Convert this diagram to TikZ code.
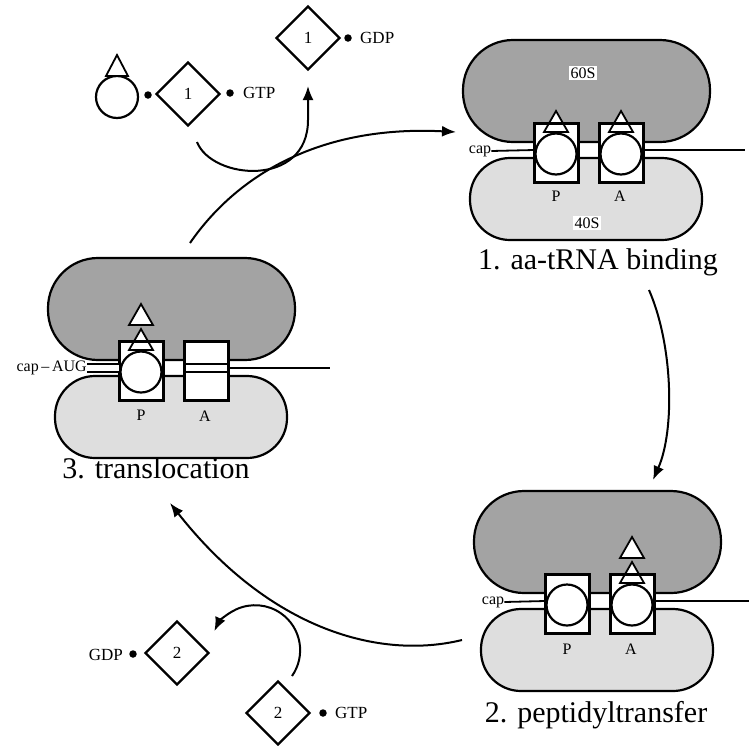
\documentclass[tikz,border=0pt]{standalone}
\usepackage{fontspec}
\setmainfont{Liberation Serif}
\usetikzlibrary{shapes.geometric,arrows.meta}
\newcommand\ribobase{%
  \draw[large60] (-93,-114) rectangle (154,-12);
  \draw[small40] (-86,4) rectangle (146,86);
  \fill[white] (-22,-31) rectangle (22,28);
  \fill[white] (43,-31) rectangle (87,28);
}
\begin{document}
\begin{tikzpicture}[x=1pt,y=-1pt,
  big/.style={font=\fontsize{30}{34}\selectfont, inner sep=0pt},
  sm/.style={font=\fontsize{17}{20}\selectfont, inner sep=0pt},
  tiny/.style={font=\fontsize{16}{18}\selectfont, inner sep=0pt},
  large60/.style={draw=black, line width=2.2pt, fill=black!36, rounded corners=50pt},
  small40/.style={draw=black, line width=2.2pt, fill=black!13, rounded corners=40pt},
  sitebox/.style={line width=3pt},
  trna/.style={draw, line width=2.2pt, fill=white},
  aa/.style={draw, line width=1.8pt, fill=white, line join=miter},
  factor/.style={diamond, draw, line width=2.4pt, minimum width=64pt, minimum height=64pt, inner sep=0pt, font=\fontsize{17}{20}\selectfont},
  gdot/.style={circle, fill=black, minimum size=7.5pt, inner sep=0pt},
  cyc/.style={line width=2pt, -{Latex[length=14pt,width=11pt]}},
  mrna/.style={line width=1.8pt},
]
\useasboundingbox (0,0) rectangle (749,745);

% ---------- Ribosome 1: aa-tRNA binding ----------
\begin{scope}[shift={(556,154)}]
  \ribobase
  \draw[aa] (0,-43) -- (12,-22) -- (-12,-22) -- cycle;
  \draw[aa] (65,-43) -- (77,-22) -- (53,-22) -- cycle;
  \draw[sitebox] (-22,-31) rectangle (22,28);
  \draw[sitebox] (43,-31) rectangle (87,28);
  \node[tiny] (cap1) at (-76,-3) {cap};
  \coordinate (p1l) at (-22,-4);
  \coordinate (a1r) at (87,-4);
  \coordinate (t1e) at (189,-4);
  \draw[mrna] (cap1.east) -- (p1l);
  \draw[mrna] (a1r) -- (t1e);
  \draw[trna] (0,0) circle[radius=20.5];
  \draw[trna] (65,0) circle[radius=20.5];
  \node[tiny, fill=white, inner sep=1.5pt] (s60) at (27,-81) {60S};
  \node[tiny, fill=white, inner sep=1.5pt] (s40) at (31,69) {40S};
  \node[tiny] (p1) at (0,42) {P};
  \node[tiny] (a1) at (64,42) {A};
\end{scope}
\node[big, anchor=base] (lab1) at (598,269) {1. aa-tRNA binding};

% ---------- Ribosome 2: peptidyltransfer ----------
\begin{scope}[shift={(567,605)}]
  \ribobase
  \draw[aa] (65,-68) -- (77,-47) -- (53,-47) -- cycle;
  \draw[aa] (65,-43) -- (77,-22) -- (53,-22) -- cycle;
  \draw[sitebox] (-22,-31) rectangle (22,28);
  \draw[sitebox] (43,-31) rectangle (87,28);
  \node[tiny] (cap2) at (-74,-3) {cap};
  \coordinate (p2l) at (-22,-4);
  \coordinate (a2r) at (87,-4);
  \coordinate (t2e) at (185,-4);
  \draw[mrna] (cap2.east) -- (p2l);
  \draw[mrna] (a2r) -- (t2e);
  \draw[trna] (0,0) circle[radius=20.5];
  \draw[trna] (65,0) circle[radius=20.5];
  \node[tiny] (p2) at (0,44) {P};
  \node[tiny] (a2) at (64,44) {A};
\end{scope}
\node[big, anchor=base] (lab2) at (596,722) {2. peptidyltransfer};

% ---------- Ribosome 3: translocation ----------
\begin{scope}[shift={(141,372)}]
  \ribobase
  \draw[aa] (0,-68) -- (12,-47) -- (-12,-47) -- cycle;
  \draw[aa] (0,-43) -- (12,-22) -- (-12,-22) -- cycle;
  \draw[sitebox] (-22,-31) rectangle (22,28);
  \draw[sitebox] (43,-31) rectangle (87,28);
  \node[tiny, anchor=east] (cap3) at (-54,-4) {cap\,--\,AUG};
  \fill[white] (-54,-8) rectangle (-22,0);
  \draw[mrna] (-54,-8) -- (-20,-8) (-54,0) -- (-20,0);
  \fill[white] (44.5,-8) rectangle (85.5,0);
  \draw[mrna] (43,-8) -- (87,-8) (43,0) -- (87,0);
  \coordinate (a3r) at (87,-4);
  \coordinate (t3e) at (189,-4);
  \draw[mrna] (a3r) -- (t3e);
  \draw[trna] (0,0) circle[radius=20.5];
  \node[tiny] (p3) at (0,43) {P};
  \node[tiny] (a3) at (64,44) {A};
\end{scope}
\node[big, anchor=base] (lab3) at (156,478) {3. translocation};

% ---------- factor 1 ----------
\draw[trna] (117,97) circle[radius=21];
\draw[aa] (117,55) -- (128,76) -- (106,76) -- cycle;
\node[gdot] (d1) at (148,95) {};
\node[factor] (f1) at (188,94) {1};
\node[gdot] (d2) at (230,93) {};
\node[sm, anchor=west] (gtp1) at (243,93) {GTP};
\node[factor] (f1b) at (308,38) {1};
\node[gdot] (d3) at (348,38) {};
\node[sm, anchor=west] (gdp1) at (360,38) {GDP};
\coordinate (e1s) at (197,142);
\coordinate (e1e) at (308,86);
\draw[cyc] (e1s) .. controls (212,180) and (308,188) .. (308,120) -- (e1e);

% ---------- factor 2 ----------
\node[factor] (f2) at (177,653) {2};
\node[gdot] (d4) at (133,654) {};
\node[sm, anchor=east] (gdp2) at (123,655) {GDP};
\node[factor] (f2b) at (278,713) {2};
\node[gdot] (d5) at (323,713) {};
\node[sm, anchor=west] (gtp2) at (335,713) {GTP};
\coordinate (e2s) at (292,676);
\draw[cyc] (e2s) arc[start angle=35, end angle=-155, radius=45];

% ---------- cycle arrows ----------
\coordinate (c1s) at (190,243);
\coordinate (c1e) at (456,132);
\draw[cyc] (c1s) .. controls (237,175) and (320,125) .. (c1e);
\coordinate (c2s) at (649,290);
\coordinate (c2e) at (653,480);
\draw[cyc] (c2s) .. controls (673,345) and (675,430) .. (c2e);
\coordinate (c3s) at (462,640);
\coordinate (c3e) at (170,503);
\draw[cyc] (c3s) .. controls (380,660) and (270,630) .. (c3e);
\end{tikzpicture}
\end{document}
